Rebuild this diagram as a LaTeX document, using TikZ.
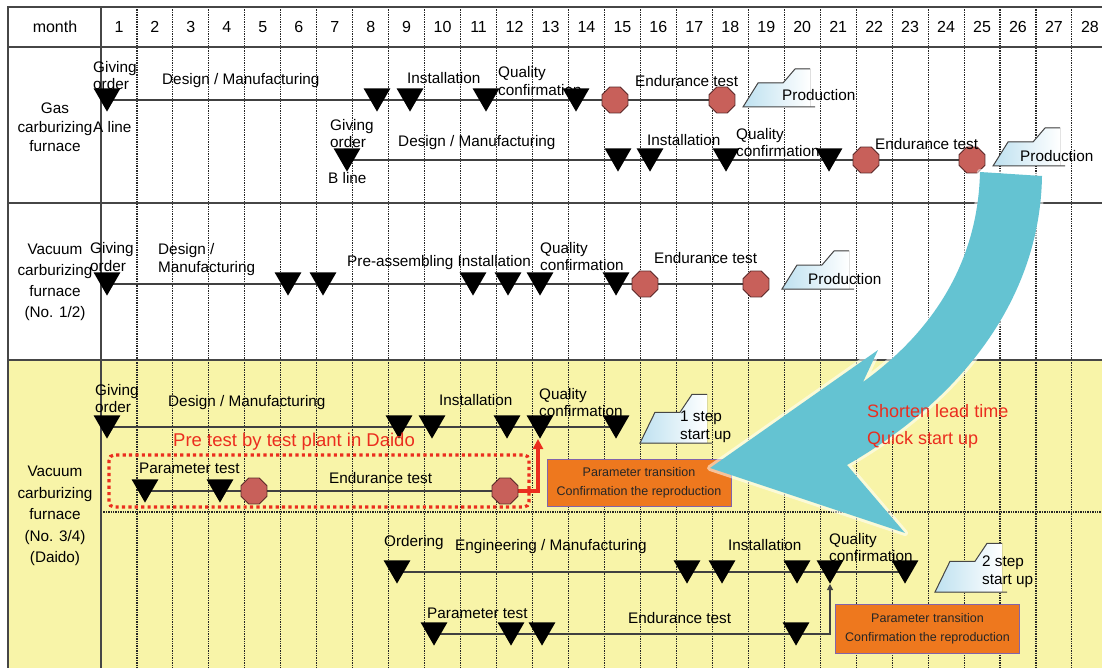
\documentclass[tikz,border=0pt]{standalone}
\usepackage{fontspec}
\setmainfont{Liberation Sans}
\usetikzlibrary{shapes.geometric, arrows.meta}

\definecolor{daidoyellow}{RGB}{248,244,168}
\definecolor{octred}{RGB}{200,96,90}
\definecolor{octedge}{RGB}{90,40,40}
\definecolor{prodblue}{RGB}{190,225,240}
\definecolor{xferorange}{RGB}{238,120,30}
\definecolor{xferedge}{RGB}{130,100,170}
\definecolor{leadteal}{RGB}{100,195,210}
\definecolor{framegray}{RGB}{70,70,70}
\definecolor{pretestred}{RGB}{235,45,30}

\tikzset{
  milestone/.style={regular polygon, regular polygon sides=3, shape border rotate=180,
    fill=black, inner sep=0pt, minimum size=31pt, yshift=3.9pt},
  testpt/.style={regular polygon, regular polygon sides=8, fill=octred, draw=octedge,
    line width=0.8pt, inner sep=0pt, minimum size=28pt},
  plan/.style={draw=black!75, line width=1.1pt},
  txt/.style={inner sep=0pt, anchor=west, align=left, font=\fontsize{15.3}{17.5}\selectfont},
  sect/.style={inner sep=0pt, align=center},
  xferbox/.style={fill=xferorange, draw=xferedge, line width=0.8pt, minimum width=184pt,
    minimum height=47pt, align=center, inner sep=0pt, text=black!85,
    font=\fontsize{12.5}{19}\selectfont},
  gridline/.style={black!85, line width=1.1pt, dash pattern=on 1.4pt off 1pt},
  prodstep/.pic={
    \fill[left color=prodblue, right color=white] (0,0) -- (15,-24) -- (40,-24) -- (52,-38) -- (67,-38) -- (67,0) -- cycle;
    \draw[framegray, line width=1pt] (72,0) -- (0,0) -- (15,-24) -- (40,-24) -- (52,-38) -- (67,-38);
  }
}

\begin{document}
\begin{tikzpicture}[x=1pt,y=-1pt]
\useasboundingbox (0,0) rectangle (1102,668);
\fill[white] (0,0) rectangle (1102,668);
\fill[daidoyellow] (8,360) rectangle (1102,668);

% month grid
\foreach \k in {1,...,27}
  \draw[gridline] ({101+35.96*\k},7) -- ({101+35.96*\k},668);
\draw[gridline] (101,512) -- (1102,512);
\draw[framegray, line width=2pt] (1102,7) -- (8,7) -- (8,668);
\draw[framegray, line width=2pt] (8,47) -- (1102,47);
\draw[framegray, line width=2pt] (8,203) -- (1102,203);
\draw[framegray, line width=2pt] (8,360) -- (1102,360);
\draw[framegray, line width=1.8pt] (101,7) -- (101,668);

\node[sect, font=\fontsize{16}{18}\selectfont] (month) at (55,27) {month};
\foreach \m in {1,...,28}
  \node[sect, font=\fontsize{16}{18}\selectfont] (m\m) at ({101+35.96*(\m-0.5)},27) {\m};

\node[sect, font=\fontsize{15.3}{19}\selectfont] (gas) at (55,127) {Gas\\carburizing\\furnace};
\node[sect, font=\fontsize{15.3}{21}\selectfont] (vac12) at (55,282) {Vacuum\\carburizing\\furnace\\(No. 1/2)};
\node[sect, font=\fontsize{15.3}{21.5}\selectfont] (vac34) at (55,516) {Vacuum\\carburizing\\furnace\\(No. 3/4)\\(Daido)};

% gas furnace, A line and B line
\coordinate (a1) at (107,100);
\coordinate (a2) at (377,100);
\coordinate (a3) at (410,100);
\coordinate (a4) at (486,100);
\coordinate (a5) at (576,100);
\coordinate (a6) at (615,100);
\coordinate (a7) at (722,100);
\coordinate (b1) at (347,160);
\coordinate (b2) at (618,160);
\coordinate (b3) at (650,160);
\coordinate (b4) at (726,160);
\coordinate (b5) at (829,160);
\coordinate (b6) at (866,160);
\coordinate (b7) at (972,160);
% vacuum No. 1/2
\coordinate (v1) at (107,284);
\coordinate (v2) at (288,284);
\coordinate (v3) at (323,284);
\coordinate (v4) at (473,284);
\coordinate (v5) at (508,284);
\coordinate (v6) at (540,284);
\coordinate (v7) at (616,284);
\coordinate (v8) at (645,284);
\coordinate (v9) at (756,284);
% vacuum No. 3/4 (Daido)
\coordinate (d1) at (107,427);
\coordinate (d2) at (399,427);
\coordinate (d3) at (432,427);
\coordinate (d4) at (507,427);
\coordinate (d5) at (540,427);
\coordinate (d6) at (616,427);
\coordinate (d5tip) at (538,439);
\coordinate (p1) at (145,491);
\coordinate (p2) at (220,491);
\coordinate (p3) at (254,491);
\coordinate (p4) at (505,491);
\coordinate (e1) at (397,572);
\coordinate (e2) at (687,572);
\coordinate (e3) at (722,572);
\coordinate (e4) at (797,572);
\coordinate (e5) at (830,572);
\coordinate (e6) at (905,572);
\coordinate (e5tip) at (830,584);
\coordinate (f1) at (434,634);
\coordinate (f2) at (511,634);
\coordinate (f3) at (542,634);
\coordinate (f4) at (796,634);

\draw[plan] (a1) -- (a7);
\draw[plan] (b1) -- (b7);
\draw[plan] (v1) -- (v9);
\draw[plan] (d1) -- (d6);
\draw[plan] (p1) -- (p4);
\draw[plan] (e1) -- (e6);
\draw[plan] (f1) -- (f4);
\draw[plan, -{Triangle[length=6pt,width=6pt]}] (f4) -| (e5tip);
\draw[pretestred, line width=3.2pt, -{Triangle[length=10pt,width=10pt]}] (p4) -| (d5tip);
\draw[pretestred, line width=3.2pt, dash pattern=on 3.2pt off 3.2pt, rounded corners=5pt] (109,455) rectangle (529,507);

\foreach \c in {a1,a2,a3,a4,a5,b1,b2,b3,b4,b5,v1,v2,v3,v4,v5,v6,v7,d1,d2,d3,d4,d5,d6,p1,p2,e1,e2,e3,e4,e5,e6,f1,f2,f3,f4}
  \node[milestone] (M\c) at (\c) {};
\foreach \c in {a6,a7,b6,b7,v8,v9,p3,p4}
  \node[testpt] (T\c) at (\c) {};

\pic at (743,107) {prodstep};
\pic at (993,166) {prodstep};
\pic at (782,289) {prodstep};
\pic[yscale=1.28] at (640,443) {prodstep};
\pic[yscale=1.28] at (935,592) {prodstep};

% labels of the A and B line
\node[txt] (agiv) at (93,75.5) {Giving\\order};
\node[txt] (adsg) at (162,81) {Design / Manufacturing};
\node[txt] (ains) at (407,78) {Installation};
\node[txt] (aqua) at (498,81) {Quality\\confirmation};
\node[txt] (aend) at (635,81) {Endurance test};
\node[txt] (aprd) at (782,95) {Production};
\node[txt] (aline) at (93,127) {A line};
\node[txt] (bgiv) at (330,133.5) {Giving\\order};
\node[txt] (bline) at (328,178) {B line};
\node[txt] (bdsg) at (398,143) {Design / Manufacturing};
\node[txt] (bins) at (647,140) {Installation};
\node[txt] (bqua) at (736,142.5) {Quality\\confirmation};
\node[txt] (bend) at (875,144) {Endurance test};
\node[txt] (bprd) at (1020,156) {Production};
% labels of No. 1/2
\node[txt] (vgiv) at (90,257) {Giving\\order};
\node[txt] (vdsg) at (158,259.5) {Design /\\Manufacturing};
\node[txt] (vins) at (347,263) {Pre-assembling Installation};
\node[txt] (vqua) at (540,256.5) {Quality\\confirmation};
\node[txt] (vend) at (654,258) {Endurance test};
\node[txt] (vprd) at (808,279) {Production};
% labels of No. 3/4
\node[txt] (dgiv) at (95,398.5) {Giving\\order};
\node[txt] (ddsg) at (168,403) {Design / Manufacturing};
\node[txt] (dins) at (439,400) {Installation};
\node[txt] (dqua) at (539,402.5) {Quality\\confirmation};
\node[txt] (dstep) at (680,427) {1 step\\start up};
\node[txt, text=pretestred, font=\fontsize{18.5}{22}\selectfont] (pretest) at (173,442) {Pre test by test plant in Daido};
\node[txt] (ppar) at (139,468) {Parameter test};
\node[txt] (pend) at (329,478) {Endurance test};
\node[txt] (eord) at (384,543) {Ordering};
\node[txt] (eeng) at (455,547) {Engineering / Manufacturing};
\node[txt] (eins) at (728,545) {Installation};
\node[txt] (equa) at (829,547.5) {Quality\\confirmation};
\node[txt] (estep) at (982,571.5) {2 step\\start up};
\node[txt] (fpar) at (427,613) {Parameter test};
\node[txt] (fend) at (628,618) {Endurance test};

\node[xferbox] (xfer1) at (639,482.5) {Parameter transition\\Confirmation the reproduction};
\node[xferbox, minimum height=49pt] (xfer2) at (927.5,628.5) {Parameter transition\\Confirmation the reproduction};

% lead time arrow
\fill[leadteal, preaction={draw=white, line width=6pt, opacity=0.55, line join=round}]
  (710,468) -- (878,350) -- (863,382) .. controls (935,330) and (978,260) .. (980,172)
  -- (1042,176) .. controls (1040,300) and (960,400) .. (847,465) -- (905,533) -- cycle;
\node[txt, text=pretestred, font=\fontsize{18}{27}\selectfont] (shorten) at (867,426.5) {Shorten lead time\\Quick start up};
\end{tikzpicture}
\end{document}
